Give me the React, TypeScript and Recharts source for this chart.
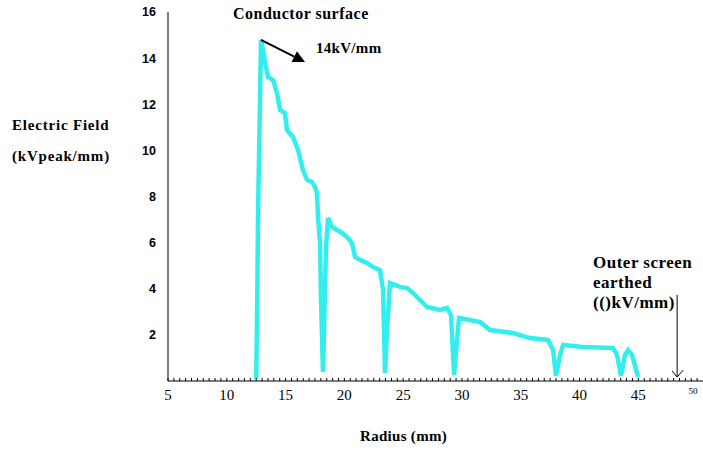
import React from 'react';
import { LineChart, Line, XAxis, YAxis, ReferenceLine } from 'recharts';

// radius (mm) and field (kV/mm)
const radius = [
  12.5, 12.57, 12.66, 12.83, 12.91, 13.17, 13.25, 13.51, 13.93, 14.27, 14.53, 14.95, 15.12, 15.63,
  16.06, 16.48, 16.82, 17.25, 17.5, 17.67, 17.76, 17.93, 18.01, 18.18, 18.27, 18.44, 18.61, 18.95,
  19.38, 19.8, 20.23, 20.65, 20.91, 21.33, 21.93, 22.44, 23.03, 23.29, 23.46, 23.63, 23.88, 24.73,
  25.33, 25.84, 26.44, 27.03, 28.14, 28.73, 29.07, 29.33, 29.58, 29.75, 31.54, 32.39, 34.35, 35.79,
  37.32, 37.75, 38.0, 38.34, 38.6, 40.3, 42.85, 43.19, 43.53, 43.87, 44.13, 44.47, 44.98,
];
const field = [
  0.1, 2.52, 7.42, 12.32, 14.79, 14.14, 13.79, 13.18, 13.05, 12.49, 11.75, 11.62, 10.88, 10.58,
  10.02, 9.15, 8.72, 8.63, 8.41, 8.15, 7.11, 5.98, 3.51, 0.39, 2.21, 5.81, 7.07, 6.68,
  6.55, 6.42, 6.24, 5.98, 5.38, 5.25, 5.12, 4.94, 4.81, 3.95, 0.35, 2.21, 4.25, 4.08,
  4.03, 3.82, 3.51, 3.21, 3.08, 3.17, 2.86, 0.26, 1.78, 2.73, 2.56, 2.21, 2.08, 1.86,
  1.78, 1.34, 0.22, 1.13, 1.56, 1.47, 1.43, 1.13, 0.22, 1.13, 1.34, 1.13, 0.17,
];
const yTicks = [2, 4, 6, 8, 10, 12, 14, 16];
const xTicks = Array.from({ length: 91 }, (_, i) => 5 + i * 0.5);

const data = radius.map((r, i) => ({ r, e: field[i] }));

const serifBold: React.CSSProperties = {
  position: 'absolute',
  fontFamily: '"Liberation Serif", serif',
  fontWeight: 'bold',
  color: '#000',
  whiteSpace: 'nowrap',
};

const XTick = ({ x, y, payload }: any) => {
  const v = payload.value;
  if (v % 5 !== 0) return null;
  return (
    <text
      x={v === 50 ? x - 4 : x}
      y={v === 50 ? y + 14 : y + 20}
      textAnchor="middle"
      fontFamily='"Liberation Serif", serif'
      fontSize={v === 50 ? 9 : 15}
      fill="#000"
    >
      {v}
    </text>
  );
};

const arrowShape = (p: any) => {
  const { x1, y1, x2, y2 } = p;
  const a = Math.atan2(y2 - y1, x2 - x1);
  const L = 12;
  const W = 6;
  const bx = x2 - L * Math.cos(a);
  const by = y2 - L * Math.sin(a);
  const pts = `${x2},${y2} ${bx + W * Math.sin(a)},${by - W * Math.cos(a)} ${bx - W * Math.sin(a)},${by + W * Math.cos(a)}`;
  return (
    <g>
      <line x1={x1} y1={y1} x2={bx} y2={by} stroke="#000" strokeWidth={2} />
      <polygon points={pts} fill="#000" />
    </g>
  );
};

const earthShape = (p: any) => {
  const { x1, y1, x2, y2 } = p;
  const top = Math.min(y1, y2);
  const bot = Math.max(y1, y2);
  return (
    <g stroke="#000" strokeWidth={1} fill="none">
      <line x1={x1} y1={top} x2={x2} y2={bot} />
      <polyline points={`${x1 - 5},${bot - 6} ${x1},${bot} ${x1 + 6},${bot - 7}`} />
    </g>
  );
};

export default function App() {
  return (
    <div style={{ position: 'absolute', left: 0, top: 0, width: 703, height: 452, background: '#fff' }}>
      <LineChart width={703} height={452} data={data} margin={{ top: 12, right: 0, left: 138, bottom: 41 }}>
        <XAxis
          dataKey="r"
          type="number"
          domain={[5, 50.5]}
          ticks={xTicks}
          interval={0}
          height={30}
          axisLine={{ stroke: '#000' }}
          tickLine={{ stroke: '#000' }}
          tickSize={-3}
          tick={<XTick />}
        />
        <YAxis
          type="number"
          domain={[0, 16]}
          ticks={yTicks}
          width={30}
          axisLine={{ stroke: '#000' }}
          tickLine={false}
          tickMargin={6}
          tick={{ fill: '#000', fontFamily: '"Liberation Sans", sans-serif', fontWeight: 'bold', fontSize: 12.5 }}
        />
        <Line
          type="linear"
          dataKey="e"
          stroke="#33EEEE"
          strokeWidth={4.5}
          dot={false}
          isAnimationActive={false}
        />
        <ReferenceLine segment={[{ x: 12.91, y: 14.79 }, { x: 16.65, y: 13.83 }]} shape={arrowShape} />
        <ReferenceLine segment={[{ x: 48.3, y: 3.73 }, { x: 48.3, y: 0.17 }]} shape={earthShape} />
      </LineChart>
      <div style={{ ...serifBold, left: 12, top: 117, fontSize: 15, letterSpacing: 0.8 }}>Electric Field</div>
      <div style={{ ...serifBold, left: 12, top: 148, fontSize: 15, letterSpacing: 0.8 }}>(kVpeak/mm)</div>
      <div style={{ ...serifBold, left: 233, top: 5, fontSize: 16, letterSpacing: 0.5 }}>Conductor surface</div>
      <div style={{ ...serifBold, left: 316, top: 40, fontSize: 15, letterSpacing: 0.3 }}>14kV/mm</div>
      <div style={{ ...serifBold, left: 593, top: 253, fontSize: 17, letterSpacing: 0.5, lineHeight: '20px' }}>
        Outer screen
        <br />
        earthed
        <br />
        (()kV/mm)
      </div>
      <div style={{ ...serifBold, left: 360, top: 428, fontSize: 15, letterSpacing: 0.3 }}>Radius (mm)</div>
    </div>
  );
}
